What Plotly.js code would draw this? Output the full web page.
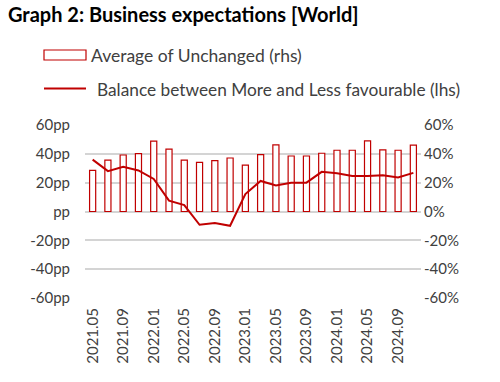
<!DOCTYPE html>
<html><head><meta charset="utf-8">
<script src="https://cdn.plot.ly/plotly-3.0.1.min.js"></script>
<style>html,body{margin:0;padding:0;background:#fff}</style>
</head><body><div id="chart" style="width:500px;height:382px"></div>
<script>
const months = ["2021.05","2021.07","2021.09","2021.11","2022.01","2022.03","2022.05","2022.07","2022.09","2022.11","2023.01","2023.03","2023.05","2023.07","2023.09","2023.11","2024.01","2024.03","2024.05","2024.07","2024.09","2024.11"];
const unchanged = [28.5,35.7,39.2,40.2,48.8,43.2,35.7,34.1,35.3,37.1,32.2,39.5,46.2,38.5,38.5,40.4,42.5,42.5,49.0,42.7,42.5,46.0];
const balance = [36,28,31,28.5,22.6,7.5,4.4,-9.2,-8,-9.9,12.1,21.2,18,20,20,27.5,26.6,24.7,24.7,25.2,23.6,26.8];
const labelMonths = ["2021.05","2021.09","2022.01","2022.05","2022.09","2023.01","2023.05","2023.09","2024.01","2024.05","2024.09"];
const leftTicks = [-60,-40,-20,0,20,40,60];
const leftLabels = ["-60pp","-40pp","-20pp","pp","20pp","40pp","60pp"];
const rightLabels = ["-60%","-40%","-20%","0%","20%","40%","60%"];
const seriesNames = ["Average of Unchanged (rhs)","Balance between More and Less favourable (lhs)"];

const red = "#C00000";
const grid = "#d4d4d4";
const font = "Lato, 'Open Sans', sans-serif";
const tickFont = {family: font, size: 15, color: "#404040"};

const traces = [
  {type:"bar", x: months, y: unchanged, yaxis:"y", name: seriesNames[0],
   marker:{color:"#ffffff", line:{color:red, width:1.2}}, showlegend:false},
  {type:"scatter", mode:"lines", x: months, y: balance, yaxis:"y2", name: seriesNames[1],
   line:{color:red, width:2}, showlegend:false}
];

const px = v => (v-85)/336;
const py = v => (298-v)/173;

const layout = {
  width:500, height:382,
  margin:{l:85, r:79, t:125, b:84, pad:0},
  paper_bgcolor:"#fff", plot_bgcolor:"#fff",
  bargap:0.6,
  title:{text:"<b>Graph 2: Business expectations [World]</b>", x:0.016, xanchor:"left", xref:"container",
         y:0.96, yanchor:"middle", yref:"container", font:{family:font, size:20, color:"#000"}},
  xaxis:{type:"category", tickmode:"array", tickvals: labelMonths, ticktext: labelMonths,
         tickangle:-90, tickfont: tickFont, showgrid:false, showline:false, zeroline:false, ticks:"",
         ticklabelstandoff:6},
  yaxis:{side:"right", range:[-60,60], tickmode:"array", tickvals:leftTicks, ticktext:rightLabels,
         tickfont: tickFont, showgrid:true, gridcolor:grid, gridwidth:2,
         zeroline:true, zerolinecolor:grid, zerolinewidth:2,
         showline:false, ticks:"", ticklabelstandoff:2},
  yaxis2:{side:"left", overlaying:"y", range:[-60,60], tickmode:"array", tickvals:leftTicks, ticktext:leftLabels,
         tickfont: tickFont, showgrid:false, zeroline:false, showline:false, ticks:"",
         ticklabelstandoff:14},
  shapes: [
    {type:"rect", xref:"paper", yref:"paper", x0:px(44), x1:px(86), y0:py(60), y1:py(50),
     line:{color:red, width:1.2}, fillcolor:"#fff"},
    {type:"line", xref:"paper", yref:"paper", x0:px(44), x1:px(86), y0:py(88.5), y1:py(88.5),
     line:{color:red, width:2}}
  ],
  annotations:[
    {xref:"paper", yref:"paper", x:px(89), y:py(55), xanchor:"left", yanchor:"middle", showarrow:false,
     text: seriesNames[0], font:{family:font, size:17.5, color:"#404040"}},
    {xref:"paper", yref:"paper", x:px(95), y:py(89), xanchor:"left", yanchor:"middle", showarrow:false,
     text: seriesNames[1], font:{family:font, size:17.3, color:"#404040"}}
  ]
};
Plotly.newPlot("chart", traces, layout, {displayModeBar:false, staticPlot:true});
</script></body></html>
